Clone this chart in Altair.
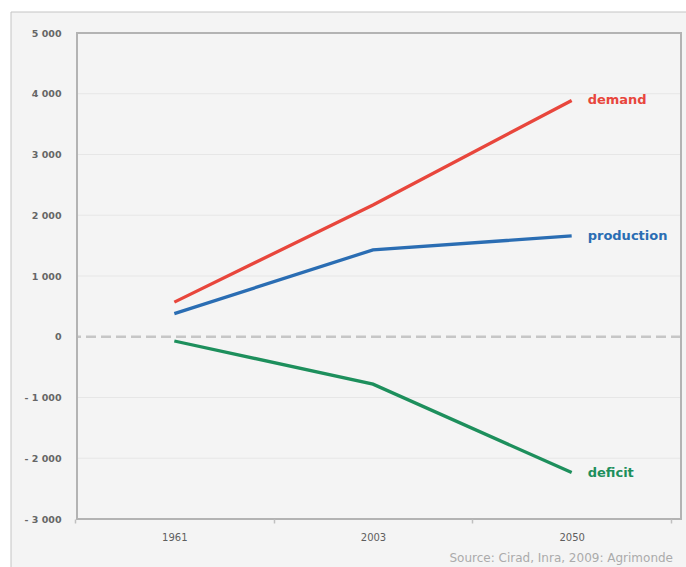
import altair as alt
import pandas as pd

# ---- data ----
years = ["1961", "2003", "2050"]
demand = [570, 2170, 3890]
production = [380, 1430, 1660]
deficit = [-70, -780, -2235]
series_names = ["demand", "production", "deficit"]
series_colors = ["#e8463c", "#2a6db3", "#1d8f5c"]
grid_values = [-2000, -1000, 1000, 2000, 3000, 4000]
y_ticks = [-3000, -2000, -1000, 0, 1000, 2000, 3000, 4000, 5000]
source_text = "Source: Cirad, Inra, 2009: Agrimonde"

rows = []
for name, vals in zip(series_names, [demand, production, deficit]):
    for yr, v in zip(years, vals):
        rows.append({"year": yr, "value": v, "series": name})
df = pd.DataFrame(rows)
last_df = df[df["year"] == years[-1]]

W, H = 604, 486
one = pd.DataFrame({"k": [0]})

x_scale = alt.Scale(domain=years, range=[-2, 594], paddingInner=0, paddingOuter=0)
y_scale = alt.Scale(domain=[-3000, 5000], nice=False, zero=False)
color_scale = alt.Scale(domain=series_names, range=series_colors)

label_expr = ("datum.value < 0 ? '- ' + replace(format(-datum.value, ','), ',', ' ') : "
              "replace(format(datum.value, ','), ',', ' ')")

# outer frame / background
bg = alt.Chart(one).mark_rect(fill="#f4f4f4", stroke="#c4c4c4", strokeWidth=1).encode(
    x=alt.value(-66), x2=alt.value(720), y=alt.value(-21), y2=alt.value(620)
)

grid = alt.Chart(pd.DataFrame({"g": grid_values})).mark_rule(
    color="#e6e6e6", strokeWidth=1
).encode(y=alt.Y("g:Q", scale=y_scale))

zero = alt.Chart(pd.DataFrame({"z": [0]})).mark_rule(
    color="#c6c6c6", strokeWidth=2.5, strokeDash=[10, 5]
).encode(y=alt.Y("z:Q", scale=y_scale))

border = alt.Chart(one).mark_rect(filled=False, stroke="#b3b3b3", strokeWidth=2).encode(
    x=alt.value(0), x2=alt.value(W), y=alt.value(0), y2=alt.value(H)
)

lines = alt.Chart(df).mark_line(strokeWidth=3.3).encode(
    x=alt.X("year:N", scale=x_scale, sort=years,
            axis=alt.Axis(title=None, labelAngle=0, domain=False, grid=False,
                          tickBand="extent", ticks=True, tickSize=4, tickColor="#c0c0c0",
                          tickWidth=1.5, labelColor="#5e5e5e", labelFontSize=10,
                          labelFont="DejaVu Sans", labelPadding=9, zindex=1)),
    y=alt.Y("value:Q", scale=y_scale,
            axis=alt.Axis(title=None, values=y_ticks, labelExpr=label_expr, domain=False,
                          ticks=False, grid=False, labelColor="#666666", labelFontSize=9.5,
                          labelFontWeight="bold", labelFont="DejaVu Sans", labelPadding=16,
                          zindex=1)),
    color=alt.Color("series:N", scale=color_scale, legend=None),
    detail="series:N",
)

labels = alt.Chart(last_df).mark_text(
    align="left", baseline="middle", dx=16, dy=0, fontSize=13, fontWeight="bold",
    font="DejaVu Sans"
).encode(
    x=alt.X("year:N", scale=x_scale, sort=years),
    y=alt.Y("value:Q", scale=y_scale),
    text="series:N",
    color=alt.Color("series:N", scale=color_scale, legend=None),
)

source = alt.Chart(pd.DataFrame({"t": [source_text]})).mark_text(
    align="right", baseline="alphabetic", fontSize=12, color="#ababab", font="DejaVu Sans"
).encode(x=alt.value(596), y=alt.value(529), text="t:N")

chart = alt.layer(bg, grid, zero, border, lines, labels, source).properties(
    width=W, height=H,
    autosize=alt.AutoSizeParams(type="none"),
    padding={"left": 77, "top": 33, "right": 5, "bottom": 48},
    background="white",
).configure_view(stroke=None, fill=None)

chart.save("out.html", embed_options={"renderer": "svg", "actions": False})
